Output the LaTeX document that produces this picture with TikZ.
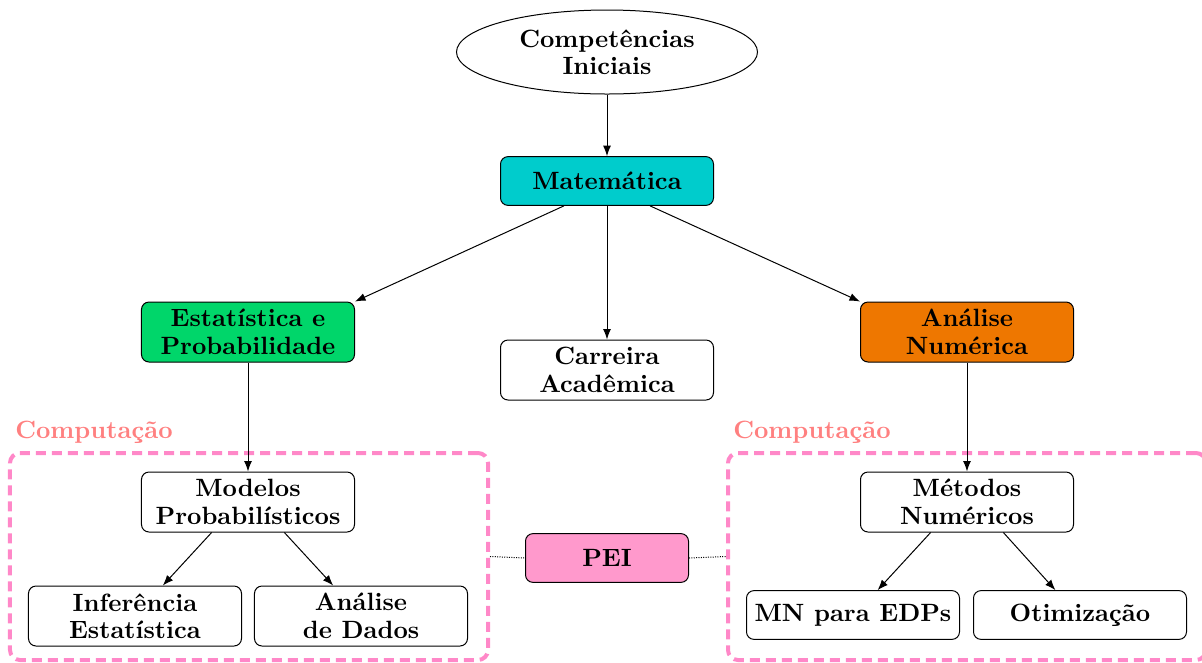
\documentclass[tikz,border=0pt]{standalone}
\usepackage{fontspec}
\usetikzlibrary{shapes.geometric,arrows.meta,calc}
\definecolor{matc}{RGB}{0,204,204}
\definecolor{estc}{RGB}{0,214,106}
\definecolor{anac}{RGB}{238,119,0}
\definecolor{peic}{RGB}{255,153,204}
\definecolor{dashc}{RGB}{255,136,200}
\definecolor{compc}{RGB}{255,128,128}
\begin{document}
\begin{tikzpicture}[x=0.4pt,y=-0.4pt,
  txt/.style={font=\bfseries\fontsize{10}{11}\selectfont},
  box/.style={txt, draw=black, rounded corners=3pt, minimum width=85.2pt, minimum height=24pt, align=center, inner xsep=2pt, inner ysep=1pt},
  onebox/.style={box, minimum height=19.5pt},
  arr/.style={-{Latex[length=4.2pt,width=3.2pt]}, draw=black},
  compbox/.style={draw=dashc, line width=1.6pt, dash pattern=on 4pt off 2.4pt, rounded corners=4pt, minimum width=191.2pt, minimum height=82.8pt, inner sep=0pt},
  complabel/.style={txt, text=compc},
  fine dots/.style={dash pattern=on 0.4pt off 0.55pt}
]
\useasboundingbox (0,0) rectangle (1202,662);

% dashed groups
\node[compbox] (boxL) at (249,556.5) {};
\node[compbox] (boxR) at (967,556.5) {};
\node[complabel] (compL) at (94,432) {Computação};
\node[complabel] (compR) at (812,432) {Computação};

% nodes
\node[ellipse, draw, txt, minimum width=120.4pt, minimum height=33.6pt, inner sep=0pt, align=center] (ci) at (607,52) {Competências\\Iniciais};
\node[onebox, fill=matc] (mat) at (607,181) {Matemática};
\node[box, fill=estc] (est) at (248,332) {Estatística e\\Probabilidade};
\node[box] (car) at (607,370) {Carreira\\Acadêmica};
\node[box, fill=anac] (ana) at (967,332) {Análise\\Numérica};
\node[box] (mod) at (248,502) {Modelos\\Probabilísticos};
\node[box] (inf) at (135,616) {Inferência\\Estatística};
\node[box] (dad) at (361,616) {Análise\\de Dados};
\node[onebox, fill=peic, minimum width=65.2pt] (pei) at (607,558) {PEI};
\node[box] (met) at (967,502) {Métodos\\Numéricos};
\node[onebox] (mn) at (853,615) {MN para EDPs};
\node[onebox] (oti) at (1080,615) {Otimização};

% connectors
\draw[arr] (ci) -- (mat);
\draw[arr] (mat.-150) -- (est.north east);
\draw[arr] (mat) -- (car);
\draw[arr] (mat.-30) -- (ana.north west);
\draw[arr] (est) -- (mod);
\draw[arr] (ana) -- (met);
\draw[arr] ($(mod.south west)!0.33!(mod.south east)$) -- ($(inf.north west)!0.63!(inf.north east)$);
\draw[arr] ($(mod.south west)!0.67!(mod.south east)$) -- ($(dad.north west)!0.37!(dad.north east)$);
\draw[arr] ($(met.south west)!0.33!(met.south east)$) -- ($(mn.north west)!0.615!(mn.north east)$);
\draw[arr] ($(met.south west)!0.67!(met.south east)$) -- ($(oti.north west)!0.385!(oti.north east)$);
\draw[fine dots] (boxL.east) -- (pei.west);
\draw[fine dots] (pei.east) -- (boxR.west);
\end{tikzpicture}
\end{document}
